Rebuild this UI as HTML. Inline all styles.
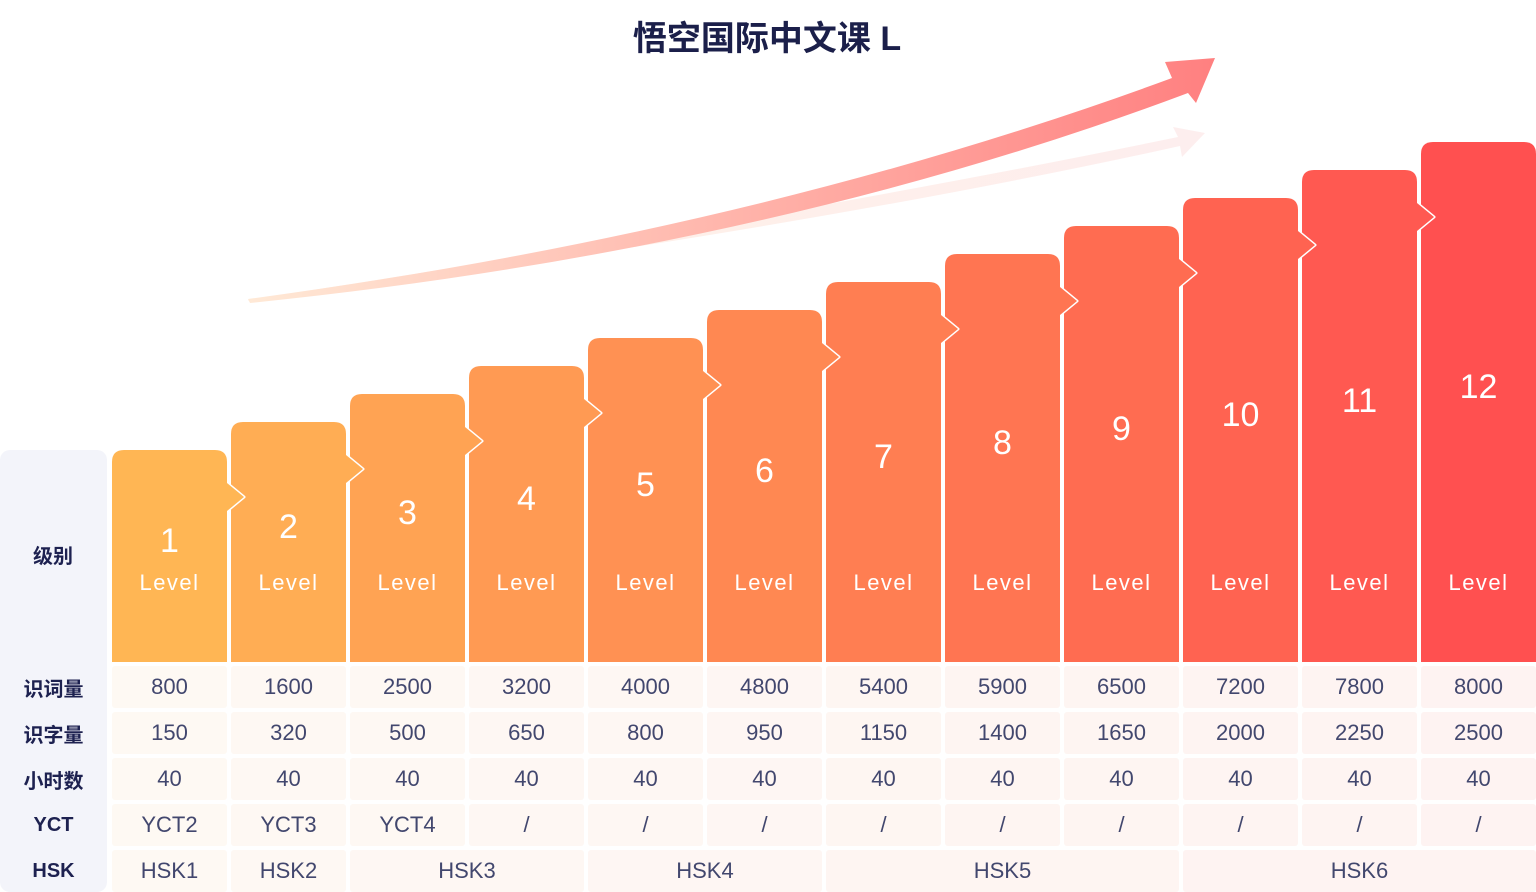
<!DOCTYPE html>
<html><head><meta charset="utf-8"><style>
body{margin:0;width:1536px;height:892px;background:#fff;position:relative;overflow:hidden;font-family:"Liberation Sans","Noto Sans CJK SC",sans-serif}
.c{position:absolute;display:flex;align-items:center;justify-content:center;font-size:22px;color:#42476e;border-radius:3px}
.l{color:#1d2150;font-weight:bold;font-size:20px}
svg{position:absolute;left:0;top:0}
</style></head><body>
<svg width="1536" height="892" viewBox="0 0 1536 892">
<defs>
<linearGradient id="a1" x1="250" y1="0" x2="1215" y2="0" gradientUnits="userSpaceOnUse"><stop offset="0" stop-color="#ffe9d6"/><stop offset="1" stop-color="#ff8080"/></linearGradient>
<linearGradient id="a2" x1="250" y1="0" x2="1205" y2="0" gradientUnits="userSpaceOnUse"><stop offset="0" stop-color="#fff1e6"/><stop offset="1" stop-color="#fdeeee"/></linearGradient>
</defs>
<rect x="0" y="450" width="107" height="442" rx="10" fill="#f3f4fa"/>
<path d="M248 300 Q800 215 1178 137 L1173 127 L1205 133 L1182 157 L1180 146 Q800 230 250 302 Z" fill="url(#a2)"/>
<path d="M248 299 Q760 230 1172 78 L1165 62 L1215 58 L1196 103 L1188 93 Q770 250 250 303 Z" fill="url(#a1)"/>
<g stroke="#fff" stroke-width="3" stroke-linejoin="round" paint-order="stroke">
<path fill="rgb(255,80,80)" d="M1421 662 L1421 154 Q1421 142 1433 142 L1524 142 Q1536 142 1536 154 L1536 662 Z"/>
<path fill="rgb(255,89,81)" d="M1302 662 L1302 182 Q1302 170 1314 170 L1405 170 Q1417 170 1417 182 L1417 203 L1434 217 L1417 231 L1417 662 Z"/>
<path fill="rgb(255,99,81)" d="M1183 662 L1183 210 Q1183 198 1195 198 L1286 198 Q1298 198 1298 210 L1298 231 L1315 245 L1298 259 L1298 662 Z"/>
<path fill="rgb(255,108,81)" d="M1064 662 L1064 238 Q1064 226 1076 226 L1167 226 Q1179 226 1179 238 L1179 259 L1196 273 L1179 287 L1179 662 Z"/>
<path fill="rgb(255,117,82)" d="M945 662 L945 266 Q945 254 957 254 L1048 254 Q1060 254 1060 266 L1060 287 L1077 301 L1060 315 L1060 662 Z"/>
<path fill="rgb(255,126,82)" d="M826 662 L826 294 Q826 282 838 282 L929 282 Q941 282 941 294 L941 315 L958 329 L941 343 L941 662 Z"/>
<path fill="rgb(255,136,82)" d="M707 662 L707 322 Q707 310 719 310 L810 310 Q822 310 822 322 L822 343 L839 357 L822 371 L822 662 Z"/>
<path fill="rgb(255,145,83)" d="M588 662 L588 350 Q588 338 600 338 L691 338 Q703 338 703 350 L703 371 L720 385 L703 399 L703 662 Z"/>
<path fill="rgb(255,154,83)" d="M469 662 L469 378 Q469 366 481 366 L572 366 Q584 366 584 378 L584 399 L601 413 L584 427 L584 662 Z"/>
<path fill="rgb(255,163,83)" d="M350 662 L350 406 Q350 394 362 394 L453 394 Q465 394 465 406 L465 427 L482 441 L465 455 L465 662 Z"/>
<path fill="rgb(255,173,84)" d="M231 662 L231 434 Q231 422 243 422 L334 422 Q346 422 346 434 L346 455 L363 469 L346 483 L346 662 Z"/>
<path fill="rgb(255,182,84)" d="M112 662 L112 462 Q112 450 124 450 L215 450 Q227 450 227 462 L227 483 L244 497 L227 511 L227 662 Z"/>
</g>
<text x="767" y="50" text-anchor="middle" font-size="34" font-weight="bold" fill="#1b1f4a" font-family="Liberation Sans, Noto Sans CJK SC, sans-serif">悟空国际中文课 L</text>
<g fill="#fff" text-anchor="middle" font-family="Liberation Sans, sans-serif" font-size="34">
<text x="169.5" y="552">1</text><text x="288.5" y="538">2</text><text x="407.5" y="524">3</text><text x="526.5" y="510">4</text><text x="645.5" y="496">5</text><text x="764.5" y="482">6</text><text x="883.5" y="468">7</text><text x="1002.5" y="454">8</text><text x="1121.5" y="440">9</text><text x="1240.5" y="426">10</text><text x="1359.5" y="412">11</text><text x="1478.5" y="398">12</text>
</g>
<g fill="#fff" text-anchor="middle" font-family="Liberation Sans, sans-serif" font-size="22" letter-spacing="1.5">
<text x="169.5" y="590">Level</text><text x="288.5" y="590">Level</text><text x="407.5" y="590">Level</text><text x="526.5" y="590">Level</text><text x="645.5" y="590">Level</text><text x="764.5" y="590">Level</text><text x="883.5" y="590">Level</text><text x="1002.5" y="590">Level</text><text x="1121.5" y="590">Level</text><text x="1240.5" y="590">Level</text><text x="1359.5" y="590">Level</text><text x="1478.5" y="590">Level</text>
</g>
<text x="53" y="563" text-anchor="middle" font-size="20" font-weight="bold" fill="#1d2150" font-family="Liberation Sans, Noto Sans CJK SC, sans-serif">级别</text>
</svg>
<div id="tb"></div>
<script>
var rows=[['识词量',[800,1600,2500,3200,4000,4800,5400,5900,6500,7200,7800,8000]],['识字量',[150,320,500,650,800,950,1150,1400,1650,2000,2250,2500]],['小时数',[40,40,40,40,40,40,40,40,40,40,40,40]],['YCT',['YCT2','YCT3','YCT4','/','/','/','/','/','/','/','/','/']]];
var ys=[666,712,758,804,850],h='';
function bg(i){var g=Math.round(249-0.55*i),b=Math.round(243-0.1*i);return 'rgb(254,'+g+','+b+')';}
for(var r=0;r<5;r++){h+='<div class="c l" style="left:0;top:'+ys[r]+'px;width:107px;height:42px">'+(r<4?rows[r][0]:'HSK')+'</div>';}
for(var r=0;r<4;r++)for(var i=0;i<12;i++)h+='<div class="c" style="left:'+(112+i*119)+'px;top:'+ys[r]+'px;width:115px;height:42px;background:'+bg(i)+'">'+rows[r][1][i]+'</div>';
var hs=[['HSK1',0,1],['HSK2',1,1],['HSK3',2,2],['HSK4',4,2],['HSK5',6,3],['HSK6',9,3]];
hs.forEach(function(e){h+='<div class="c" style="left:'+(112+e[1]*119)+'px;top:850px;width:'+(e[2]*119-4)+'px;height:42px;background:'+bg(e[1]+e[2]/2)+'">'+e[0]+'</div>';});
document.getElementById('tb').innerHTML=h;
</script>
</body></html>
